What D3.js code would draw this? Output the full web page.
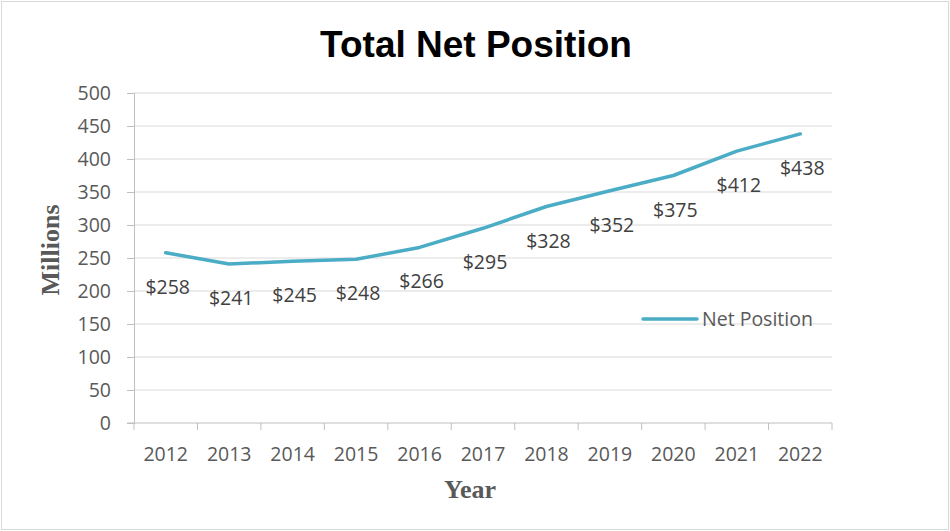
<!DOCTYPE html>
<html>
<head>
<meta charset="utf-8">
<script src="https://cdn.jsdelivr.net/npm/d3@7"></script>
<style>
  body { margin: 0; background: #fff; }
  svg { display: block; }
</style>
</head>
<body>
<script>
var years = ["2012", "2013", "2014", "2015", "2016", "2017", "2018", "2019", "2020", "2021", "2022"];
var netPosition = [258, 241, 245, 248, 266, 295, 328, 352, 375, 412, 438];
var yTicks = [0, 50, 100, 150, 200, 250, 300, 350, 400, 450, 500];

var W = 950, H = 531;
var margin = { top: 93, bottom: 108, left: 134, right: 118 },
    width = W - margin.left - margin.right,
    height = H - margin.top - margin.bottom;

var svg = d3.select("body").append("svg")
    .attr("width", W)
    .attr("height", H);

// chart frame
svg.append("rect")
    .attr("x", 1.5).attr("y", 1.5)
    .attr("width", W - 3).attr("height", H - 3)
    .attr("fill", "#fff")
    .attr("stroke", "#d9d9d9");

svg.append("text")
    .attr("x", 476).attr("y", 57)
    .attr("text-anchor", "middle")
    .style("font-family", "Liberation Sans, Arial, sans-serif")
    .style("font-weight", "bold")
    .style("font-size", "37px")
    .attr("fill", "#000")
    .text("Total Net Position");

var g = svg.append("g")
    .attr("transform", "translate(" + margin.left + "," + margin.top + ")");

var x = d3.scaleBand().domain(years).range([0, width]);
var y = d3.scaleLinear().domain([0, 500]).range([height, 0]);

// gridlines
g.append("g")
    .selectAll("line")
    .data(yTicks.slice(1))
    .join("line")
    .attr("x1", 0).attr("x2", width)
    .attr("y1", d => y(d)).attr("y2", d => y(d))
    .attr("stroke", "#d9d9d9")
    .attr("stroke-width", 1);

var tickFont = "Open Sans, sans-serif";
var tickSize = "19.5px";

var yAxis = g.append("g")
    .call(d3.axisLeft(y).tickValues(yTicks).tickSize(7).tickPadding(16));
yAxis.select(".domain").attr("stroke", "#bfbfbf");
yAxis.selectAll(".tick line").attr("stroke", "#bfbfbf");
yAxis.selectAll("text")
    .style("font-family", tickFont)
    .style("font-size", tickSize)
    .attr("fill", "#595959");

// x axis with ticks at band edges
var xAxis = g.append("g")
    .attr("transform", "translate(0," + height + ")");
xAxis.append("line")
    .attr("x1", -7).attr("x2", width)
    .attr("stroke", "#bfbfbf");
xAxis.selectAll(".xt")
    .data(years.concat(["end"]))
    .join("line")
    .attr("class", "xt")
    .attr("x1", (d, i) => i * x.step()).attr("x2", (d, i) => i * x.step())
    .attr("y1", 0).attr("y2", 7)
    .attr("stroke", "#bfbfbf");
xAxis.selectAll("text")
    .data(years)
    .join("text")
    .attr("x", d => x(d) + x.bandwidth() / 2)
    .attr("y", 38)
    .attr("text-anchor", "middle")
    .style("font-family", tickFont)
    .style("font-size", tickSize)
    .attr("fill", "#595959")
    .text(d => d);

// axis titles
svg.append("text")
    .attr("transform", "translate(59," + (margin.top + height / 2 - 8) + ") rotate(-90)")
    .attr("text-anchor", "middle")
    .style("font-family", "Liberation Serif, Times New Roman, serif")
    .style("font-weight", "bold")
    .style("font-size", "26px")
    .attr("fill", "#595959")
    .text("Millions");

svg.append("text")
    .attr("x", 470).attr("y", 498)
    .attr("text-anchor", "middle")
    .style("font-family", "Liberation Serif, Times New Roman, serif")
    .style("font-weight", "bold")
    .style("font-size", "26px")
    .attr("fill", "#595959")
    .text("Year");

var line = d3.line()
    .x((d, i) => x(years[i]) + x.bandwidth() / 2)
    .y(d => y(d));

g.append("path")
    .datum(netPosition)
    .attr("d", line)
    .attr("fill", "none")
    .attr("stroke", "#4bacc6")
    .attr("stroke-width", 3.5)
    .attr("stroke-linecap", "round")
    .attr("stroke-linejoin", "round");

g.selectAll(".lbl")
    .data(netPosition)
    .join("text")
    .attr("class", "lbl")
    .attr("x", (d, i) => x(years[i]) + x.bandwidth() / 2 + 2)
    .attr("y", d => y(d) + 41)
    .attr("text-anchor", "middle")
    .style("font-family", tickFont)
    .style("font-size", tickSize)
    .attr("fill", "#404040")
    .text(d => "$" + d);

// legend
var leg = svg.append("g").attr("transform", "translate(643,319)");
leg.append("line")
    .attr("x1", 0).attr("x2", 54)
    .attr("stroke", "#4bacc6")
    .attr("stroke-width", 3.5)
    .attr("stroke-linecap", "round");
leg.append("text")
    .attr("x", 59).attr("y", 7)
    .style("font-family", tickFont)
    .style("font-size", tickSize)
    .attr("fill", "#595959")
    .text("Net Position");
</script>
</body>
</html>
